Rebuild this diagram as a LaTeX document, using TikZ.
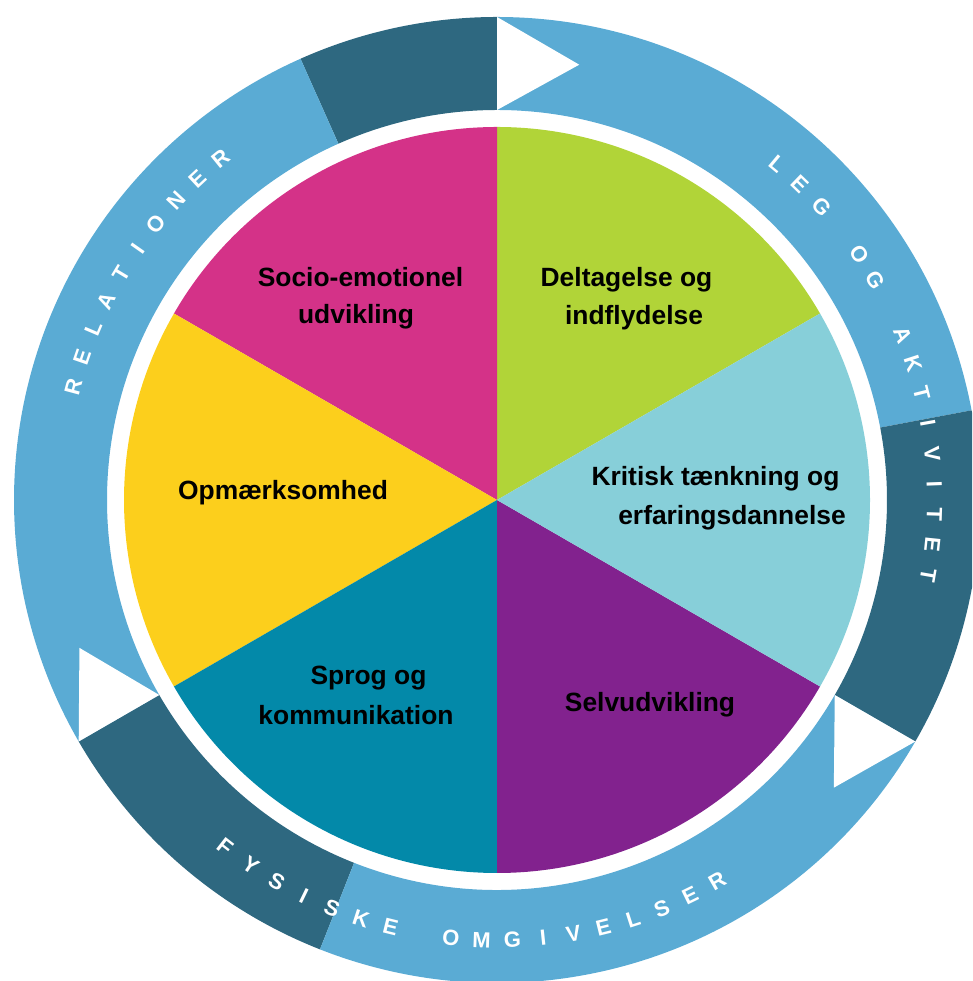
\documentclass[tikz,border=0pt]{standalone}
\usepackage{fontspec}
\setmainfont{Liberation Sans}
\definecolor{ringlight}{RGB}{90,171,212}
\definecolor{ringdark}{RGB}{46,104,128}
\definecolor{piemagenta}{RGB}{212,50,136}
\definecolor{piegreen}{RGB}{177,212,56}
\definecolor{piecyan}{RGB}{135,207,217}
\definecolor{piepurple}{RGB}{130,34,142}
\definecolor{pieteal}{RGB}{3,137,169}
\definecolor{pieyellow}{RGB}{252,207,28}
\begin{document}
\begin{tikzpicture}[x=1pt,y=1pt,
  ringletter/.style={text=white, font=\bfseries\fontsize{22}{22}\selectfont, inner sep=0pt, text height=15.8pt, text depth=0pt, anchor=center},
  pielabel/.style={text=black, font=\bfseries\fontsize{26.4}{30}\selectfont, inner sep=0pt, anchor=base}]
\useasboundingbox (0,0) rectangle (972,981);
\clip (0,0) rectangle (972,981);
\begin{scope}[shift={(497,481)}]
  % pie slices
  \fill[piegreen]   (0,0) -- (30:373)  arc[start angle=30,  end angle=90,  radius=373] -- cycle;
  \fill[piemagenta] (0,0) -- (90:373)  arc[start angle=90,  end angle=150, radius=373] -- cycle;
  \fill[pieyellow]  (0,0) -- (150:373) arc[start angle=150, end angle=210, radius=373] -- cycle;
  \fill[pieteal]    (0,0) -- (210:373) arc[start angle=210, end angle=270, radius=373] -- cycle;
  \fill[piepurple]  (0,0) -- (270:373) arc[start angle=270, end angle=330, radius=373] -- cycle;
  \fill[piecyan]    (0,0) -- (-30:373) arc[start angle=-30, end angle=30,  radius=373] -- cycle;
  % ring segments
  \fill[ringlight] (10.7:390) arc[start angle=10.7, end angle=90, radius=390] -- (90:483) arc[start angle=90, end angle=10.7, radius=483] -- cycle;
  \fill[ringdark] (90:390) arc[start angle=90, end angle=114, radius=390] -- (114:483) arc[start angle=114, end angle=90, radius=483] -- cycle;
  \fill[ringlight] (114:390) arc[start angle=114, end angle=210, radius=390] -- (210:483) arc[start angle=210, end angle=114, radius=483] -- cycle;
  \fill[ringdark] (210:390) arc[start angle=210, end angle=248.5, radius=390] -- (248.5:483) arc[start angle=248.5, end angle=210, radius=483] -- cycle;
  \fill[ringlight] (248.5:390) arc[start angle=248.5, end angle=330, radius=390] -- (330:483) arc[start angle=330, end angle=248.5, radius=483] -- cycle;
  \fill[ringdark] (-30:390) arc[start angle=-30, end angle=10.7, radius=390] -- (10.7:483) arc[start angle=10.7, end angle=-30, radius=483] -- cycle;
  % white arrow triangles
  \fill[white] (90:390) -- (90:483) -- (79.3:443) -- cycle;
  \fill[white] (210:390) -- (210:483) -- (199.5:443) -- cycle;
  \fill[white] (-30:390) -- (-30:483) -- (-40.5:443) -- cycle;
  % ring texts
  \foreach \ch [count=\i from 0] in {R,E,L,A,T,I,O,N,E,R} {
    \pgfmathsetmacro{\a}{165-4*\i}
    \node[ringletter, rotate=\a-90] (rel\i) at (\a:439) {\ch};
  }
  \foreach \ch/\k in {L/0,E/1,G/2,O/4,G/5,A/7,K/8,T/9,I/10,V/11,I/12,T/13,E/14,T/15} {
    \pgfmathsetmacro{\a}{50.1-4*\k}
    \node[ringletter, rotate=\a-90] (leg\k) at (\a:438) {\ch};
  }
  \foreach \ch/\k in {F/0,Y/1,S/2,I/3,S/4,K/5,E/6,O/8,M/9,G/10,I/11,V/12,E/13,L/14,S/15,E/16,R/17} {
    \pgfmathsetmacro{\a}{232+4*\k}
    \node[ringletter, rotate=\a+90] (fys\k) at (\a:440) {\ch};
  }
\end{scope}
% pie labels
\node[pielabel] (socio1) at (360.5,694) {Socio-emotionel};
\node[pielabel] (socio2) at (356,657) {udvikling};
\node[pielabel] (delt1) at (626.5,694) {Deltagelse og};
\node[pielabel] (delt2) at (634,656) {indflydelse};
\node[pielabel] (krit1) at (715.5,495) {Kritisk tænkning og};
\node[pielabel] (krit2) at (732,456) {erfaringsdannelse};
\node[pielabel] (opm) at (283,481) {Opmærksomhed};
\node[pielabel] (sprog1) at (368.5,296) {Sprog og};
\node[pielabel] (sprog2) at (356,256) {kommunikation};
\node[pielabel] (selv) at (650,269) {Selvudvikling};
\end{tikzpicture}
\end{document}
